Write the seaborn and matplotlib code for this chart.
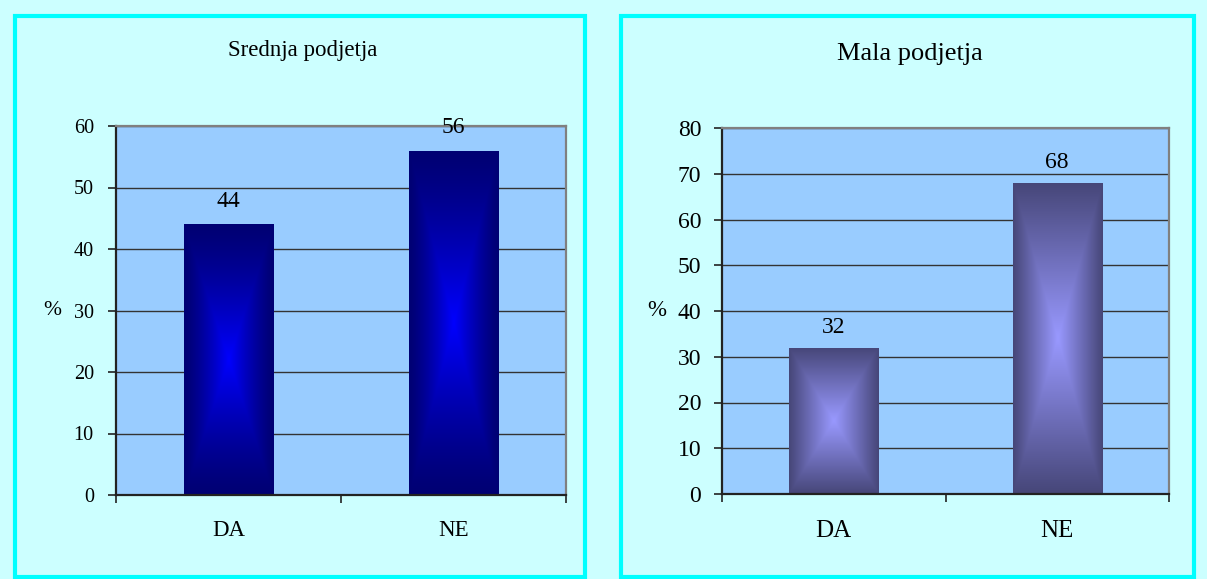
import numpy as np
import pandas as pd
import seaborn as sns
import matplotlib.pyplot as plt
from matplotlib.patches import Rectangle
from matplotlib.ticker import FixedLocator

# Data
categories = ["DA", "NE"]
srednja_values = [44, 56]
mala_values = [32, 68]
srednja_yticks = [0, 10, 20, 30, 40, 50, 60]
mala_yticks = [0, 10, 20, 30, 40, 50, 60, 70, 80]

W, H = 1207, 579
BG = "#CCFFFF"
PLOT_BG = "#99CCFF"

sns.set_style("white")
plt.rcParams["font.family"] = ["Liberation Serif", "DejaVu Serif"]
plt.rcParams["text.color"] = "black"
plt.rcParams["axes.labelcolor"] = "black"
plt.rcParams["xtick.color"] = "black"
plt.rcParams["ytick.color"] = "black"

fig = plt.figure(figsize=(W / 100, H / 100), dpi=100, facecolor=BG)


def px_box(left, top, right, bottom):
    return [left / W, 1 - bottom / H, (right - left) / W, (bottom - top) / H]


def gradient_bars(ax, edge, center, power=1.0):
    edge = np.array(edge) / 255
    center = np.array(center) / 255
    u = np.linspace(-1, 1, 200)
    v = np.linspace(-1, 1, 400)
    U, V = np.meshgrid(u, v)
    s = (1 - np.maximum(np.abs(U), np.abs(V))) ** power
    rgb = edge + (center - edge) * s[..., None]
    for p in ax.patches:
        x0, y0, w, h = p.get_x(), p.get_y(), p.get_width(), p.get_height()
        p.set_facecolor(edge)
        im = ax.imshow(rgb, extent=[x0, x0 + w, y0, y0 + h], origin="lower",
                       aspect="auto", interpolation="bilinear",
                       zorder=p.get_zorder() + 0.1)
        im.set_clip_path(p)


def draw_panel(box, values, yticks, edge, center, power, sizes, pads):
    tick_fs, cat_fs, val_fs, pct_fs = sizes
    ytick_pad, xtick_pad, val_pad = pads
    ax = fig.add_axes(box)
    df = pd.DataFrame({"odgovor": categories, "pct": values})
    sns.barplot(data=df, x="odgovor", y="pct", ax=ax, width=0.4,
                color="#000080", saturation=1, linewidth=0)
    gradient_bars(ax, edge, center, power)
    ax.set_facecolor(PLOT_BG)
    ax.set_xlim(-0.5, 1.5)
    ax.set_ylim(yticks[0], yticks[-1])
    ax.set_yticks(yticks)
    ax.set_axisbelow(True)
    ax.yaxis.grid(True, color="#333333", linewidth=1.0)
    ax.xaxis.grid(False)
    for side in ["left", "bottom"]:
        ax.spines[side].set_color("#222222")
        ax.spines[side].set_linewidth(1.6)
    for side in ["top", "right"]:
        ax.spines[side].set_color("#808080")
        ax.spines[side].set_linewidth(1.6)
    ax.tick_params(axis="y", left=True, length=6, width=1.2, color="#222222",
                   pad=ytick_pad, labelsize=tick_fs)
    ax.tick_params(axis="x", which="major", bottom=False, length=0,
                   pad=xtick_pad, labelsize=cat_fs)
    ax.xaxis.set_minor_locator(FixedLocator([-0.5, 0.5, 1.5]))
    ax.tick_params(axis="x", which="minor", bottom=True, length=6, width=1.2,
                   color="#222222")
    ax.set_xlabel("")
    ax.set_ylabel("%", rotation=0, fontsize=pct_fs, va="center", ha="center")
    ax.bar_label(ax.containers[0], fmt="%d", padding=val_pad, fontsize=val_fs)
    return ax


# Left panel: Srednja podjetja
draw_panel(px_box(116, 126, 566, 495), srednja_values, srednja_yticks,
           edge=(0, 0, 115), center=(0, 0, 255), power=1.3,
           sizes=(14.5, 16.5, 17, 15.5), pads=(10, 18, 9))
fig.axes[0].yaxis.set_label_coords((52 - 116) / 450, 0.5)

# Right panel: Mala podjetja
draw_panel(px_box(722, 128, 1169, 494), mala_values, mala_yticks,
           edge=(70, 70, 120), center=(153, 153, 255), power=1.0,
           sizes=(17, 18, 17, 16.5), pads=(9, 18.5, 7))
fig.axes[1].yaxis.set_label_coords((657 - 722) / 447, 0.5)

# Titles
fig.text(303 / W, 1 - 56 / H, "Srednja podjetja", ha="center", va="baseline",
         fontsize=16.5)
fig.text(910 / W, 1 - 60 / H, "Mala podjetja", ha="center", va="baseline",
         fontsize=19)

# Cyan panel frames
for left, right in [(15, 585), (621, 1194)]:
    fig.patches.append(Rectangle((left / W, 1 - 577 / H), (right - left) / W,
                                 (577 - 16) / H, transform=fig.transFigure,
                                 fill=False, edgecolor="#00FFFF", linewidth=3,
                                 zorder=0))

fig.savefig("out.png", dpi=100, facecolor=BG)
